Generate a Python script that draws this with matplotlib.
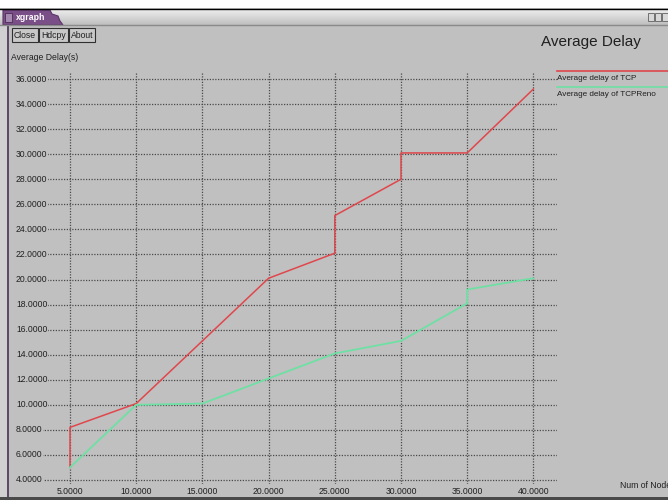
import matplotlib
matplotlib.use("Agg")
import matplotlib.pyplot as plt
import matplotlib.transforms as mtransforms
from matplotlib.patches import Rectangle, Polygon
from matplotlib.lines import Line2D

tcp_nodes = [5, 5, 10, 15, 20, 25, 25, 30, 30, 35, 40]
tcp_delay = [5.0, 8.2, 10.1, 15.1, 20.1, 22.1, 25.1, 28.0, 30.1, 30.1, 35.2]

reno_nodes = [5, 10, 15, 20, 25, 30, 35, 35, 40]
reno_delay = [5.0, 10.0, 10.1, 12.1, 14.1, 15.1, 18.1, 19.2, 20.1]

x_ticks = [5, 10, 15, 20, 25, 30, 35, 40]
y_ticks = list(range(4, 37, 2))

W, H = 668, 500
BG = "#c0c0c0"
RED = "#e0474c"
GREEN = "#6fe0a4"
GRID = "#4a4a4a"
INK = "#202020"
FONT = ["Liberation Sans", "DejaVu Sans"]
SMALL = 6.2


def fx(x):
    return x / W


def fy(y):
    return 1 - y / H


def main():
    fig = plt.figure(figsize=(W / 100, H / 100), dpi=100)
    fig.patch.set_facecolor(BG)

    # window chrome
    fig.patches.append(Rectangle((0, fy(8)), 1, 8 / H, transform=fig.transFigure,
                                 facecolor="white", edgecolor="none"))
    for i in range(16):
        shade = 0.93 - i * 0.012
        fig.patches.append(Rectangle((0, fy(9 + i + 1)), 1, 1 / H, transform=fig.transFigure,
                                     facecolor=(shade, shade, shade), edgecolor="none"))
    fig.add_artist(Line2D([0, 1], [fy(8.5), fy(8.5)], transform=fig.transFigure,
                          color="black", lw=1))
    fig.add_artist(Line2D([0, 1], [fy(25), fy(25)], transform=fig.transFigure,
                          color="#8a8a8a", lw=1))
    tab = [(3, 25), (3, 10), (50, 10), (52, 14), (58, 16), (60, 21), (63, 25)]
    fig.patches.append(Polygon([(fx(a), fy(b)) for a, b in tab], closed=True,
                               transform=fig.transFigure, facecolor="#7a4e86",
                               edgecolor="#5b3568", lw=0.8))
    fig.patches.append(Rectangle((fx(5), fy(22)), 7 / W, 9 / H, transform=fig.transFigure,
                                 facecolor="#a689b0", edgecolor="#4a2a55", lw=0.6))
    fig.text(fx(16), fy(17), "xgraph", color="white", fontsize=6.3, fontweight="bold",
             va="center", ha="left", family=FONT)
    for bx in (648, 655, 662):
        fig.patches.append(Rectangle((fx(bx), fy(21)), 6 / W, 8 / H, transform=fig.transFigure,
                                     facecolor="#d8d8d8", edgecolor="#606060", lw=0.6))

    # left and bottom borders
    fig.patches.append(Rectangle((0, fy(497)), 7 / W, (497 - 25) / H, transform=fig.transFigure,
                                 facecolor="#d0d0d0", edgecolor="none"))
    fig.patches.append(Rectangle((fx(7), fy(497)), 2 / W, (497 - 25) / H, transform=fig.transFigure,
                                 facecolor="#5c4a66", edgecolor="none"))
    fig.patches.append(Rectangle((0, 0), 1, 3 / H, transform=fig.transFigure,
                                 facecolor="#4a4a4a", edgecolor="none"))

    # buttons
    for label, x0, x1 in (("Close", 12, 38), ("Hdcpy", 39, 68), ("About", 69, 95)):
        fig.patches.append(Rectangle((fx(x0), fy(42)), (x1 - x0) / W, 14 / H,
                                     transform=fig.transFigure, facecolor="#c8c8c8",
                                     edgecolor="#303030", lw=0.8))
        fig.text(fx((x0 + x1) / 2), fy(35), label, fontsize=SMALL, ha="center", va="center",
                 color=INK, family=FONT)

    fig.text(fx(11), fy(57), "Average Delay(s)", fontsize=SMALL, ha="left", va="center",
             color=INK, family=FONT)
    fig.text(fx(591), fy(42), "Average Delay", fontsize=11, ha="center", va="center",
             color=INK, family=FONT)
    fig.text(fx(620), fy(485), "Num of Nodes", fontsize=SMALL, ha="left", va="center",
             color=INK, family=FONT)

    # legend
    fig.add_artist(Line2D([fx(557), 1], [fy(71), fy(71)], transform=fig.transFigure,
                          color=RED, lw=1.2))
    fig.text(fx(557), fy(78), "Average delay of TCP", fontsize=5.9, ha="left", va="center",
             color=INK, family=FONT)
    fig.add_artist(Line2D([fx(557), 1], [fy(87), fy(87)], transform=fig.transFigure,
                          color=GREEN, lw=1.2))
    fig.text(fx(557), fy(94), "Average delay of TCPReno", fontsize=5.9, ha="left", va="center",
             color=INK, family=FONT)

    # plot area
    left, right, top, bottom = 36, 557, 72, 484
    ax = fig.add_axes([fx(left), fy(bottom), (right - left) / W, (bottom - top) / H])
    ax.set_facecolor("none")
    px_per_x = 66.2 / 5
    px_per_y = 401 / 32
    ax.set_xlim(5 - (70 - left) / px_per_x, 5 + (right - 70) / px_per_x)
    ax.set_ylim(4 - (bottom - 480) / px_per_y, 4 + (480 - top) / px_per_y)
    for s in ax.spines.values():
        s.set_visible(False)
    ax.set_xticks(x_ticks)
    ax.set_yticks(y_ticks)
    ax.tick_params(length=0, labelleft=False, labelbottom=False)
    ax.grid(True, color=GRID, linestyle=(0, (1, 1.2)), linewidth=0.9)
    ax.set_axisbelow(True)

    ax.plot(tcp_nodes, tcp_delay, color=RED, lw=1.1, zorder=3)
    ax.plot(reno_nodes, reno_delay, color=GREEN, lw=1.3, zorder=3)

    ytrans = mtransforms.blended_transform_factory(fig.transFigure, ax.transData)
    for v in y_ticks:
        fig.text(fx(16), v, f"{v:.4f}", transform=ytrans, fontsize=SMALL, ha="left",
                 va="center", color=INK, family=FONT,
                 bbox=dict(facecolor=BG, edgecolor="none", pad=0.6), zorder=5)
    xtrans = mtransforms.blended_transform_factory(ax.transData, fig.transFigure)
    for v in x_ticks:
        fig.text(v, fy(492), f"{v:.4f}", transform=xtrans, fontsize=SMALL, ha="center",
                 va="center", color=INK, family=FONT)

    fig.savefig("out.png", dpi=100, facecolor=fig.get_facecolor())


if __name__ == "__main__":
    main()
